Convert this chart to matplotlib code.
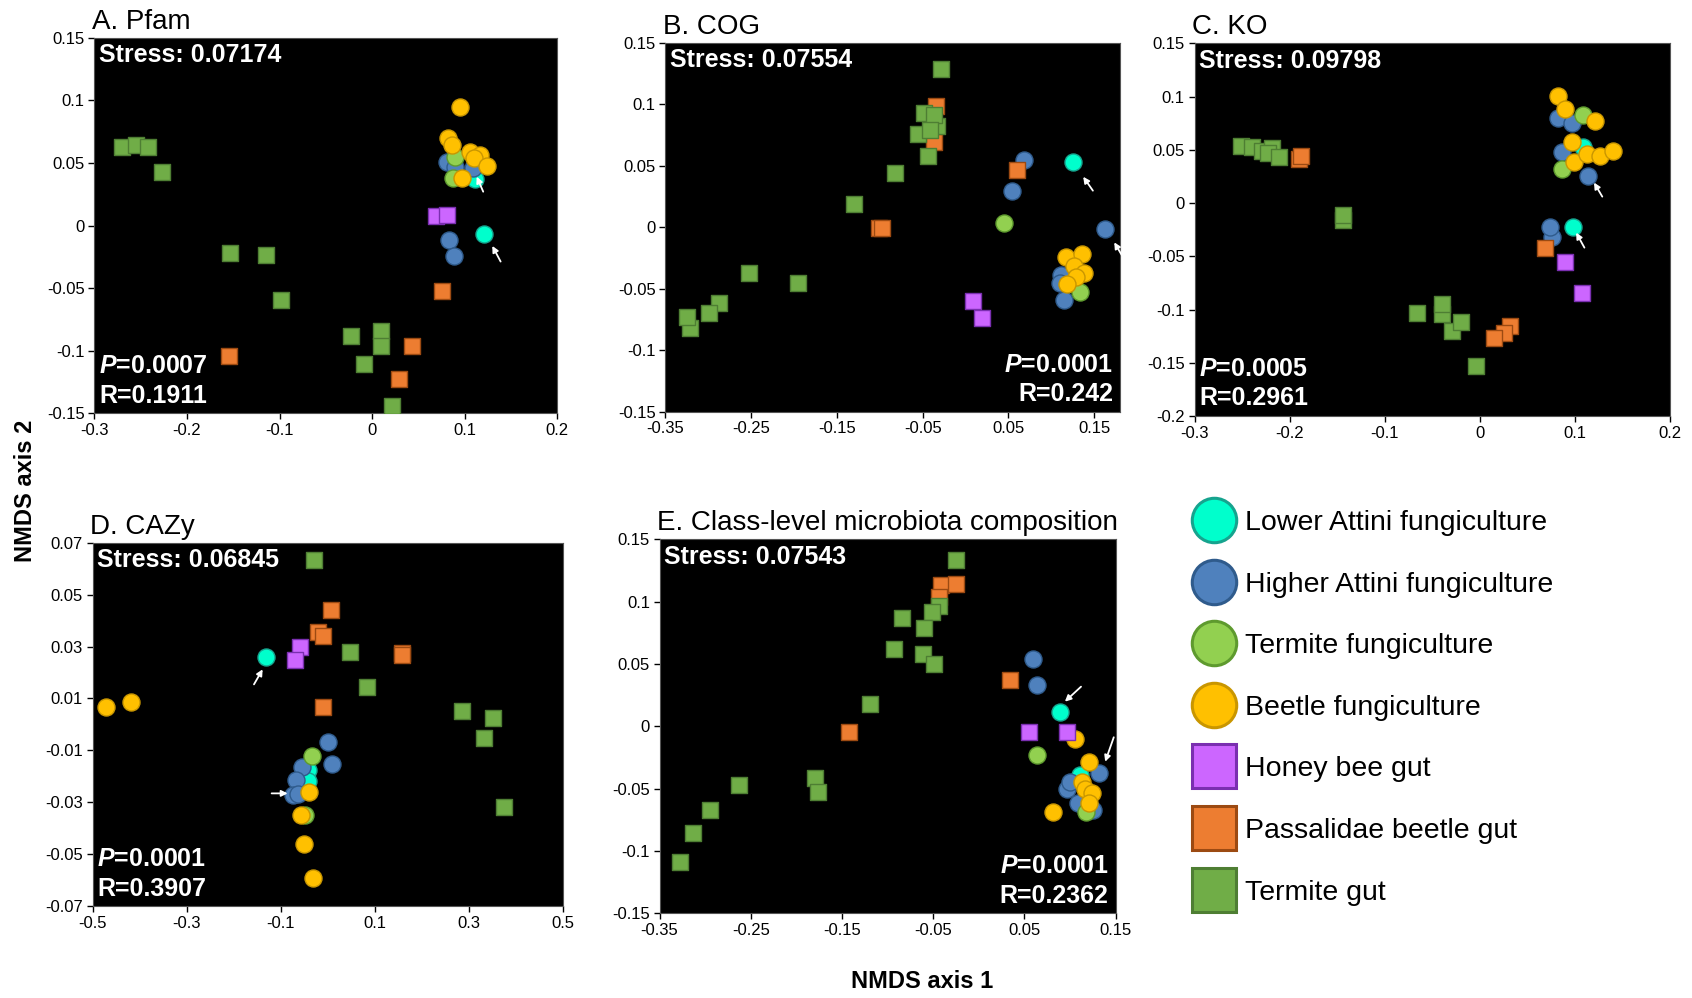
import matplotlib
matplotlib.use("Agg")
import matplotlib.pyplot as plt
from matplotlib.lines import Line2D
from matplotlib.ticker import FuncFormatter

plt.rcParams["font.family"] = ["Liberation Sans", "DejaVu Sans"]
plt.rcParams["axes.unicode_minus"] = False
plt.rcParams["mathtext.fontset"] = "custom"
plt.rcParams["mathtext.it"] = "Liberation Sans:bold:italic"
plt.rcParams["mathtext.rm"] = "Liberation Sans:bold"

# groups, in drawing order (legend order)
groups = ["Lower Attini fungiculture", "Higher Attini fungiculture",
          "Termite fungiculture", "Beetle fungiculture", "Honey bee gut",
          "Passalidae beetle gut", "Termite gut"]
markers = ["o", "o", "o", "o", "s", "s", "s"]
fills = ["#00FFCC", "#4F81BD", "#92D050", "#FFC000", "#CC66FF", "#ED7D31", "#70AD47"]
edges = ["#16A38E", "#2F5B8C", "#5E9A2E", "#C99600", "#7A2FB0", "#9C4A12", "#4E7E33"]

# ---- A. Pfam ----
pfam_lower = [(0.121, -0.007), (0.111, 0.037)]
pfam_higher = [(0.083, -0.0115), (0.088, -0.024), (0.0806, 0.051), (0.0895, 0.047), (0.109, 0.046)]
pfam_tfung = [(0.0895, 0.055), (0.0877, 0.0377)]
pfam_beetle = [(0.095, 0.0949), (0.0823, 0.0697), (0.086, 0.0643), (0.1057, 0.059),
               (0.1165, 0.0563), (0.110, 0.0537), (0.1237, 0.0475), (0.0968, 0.0377)]
pfam_bee = [(0.0686, 0.0072), (0.0812, 0.0085)]
pfam_passal = [(-0.1546, -0.104), (0.0755, -0.0527), (0.0434, -0.0966), (0.029, -0.1224)]
pfam_tgut = [(-0.2705, 0.063), (-0.255, 0.064), (-0.2424, 0.063), (-0.2269, 0.043),
             (-0.1531, -0.0222), (-0.115, -0.0233), (-0.0987, -0.0595), (-0.0228, -0.088),
             (0.0092, -0.0846), (0.0092, -0.0966), (-0.0084, -0.1107), (0.0218, -0.1445)]
pfam_arrows = [((0.113, 0.039), (0.120, 0.027)), ((0.1298, -0.0163), (0.1388, -0.0288))]

# ---- B. COG ----
cog_lower = [(0.125, 0.0527)]
cog_higher = [(0.0679, 0.0546), (0.0538, 0.0297), (0.1627, -0.0017), (0.1114, -0.0389),
              (0.1095, -0.0456), (0.1145, -0.0592)]
cog_tfung = [(0.0453, 0.0037), (0.1339, -0.0525)]
cog_beetle = [(0.1172, -0.024), (0.1355, -0.022), (0.1269, -0.0316), (0.1386, -0.037),
              (0.1289, -0.0407), (0.1184, -0.0462)]
cog_bee = [(0.0091, -0.060), (0.0196, -0.0741)]
cog_passal = [(-0.034, 0.0985), (-0.0368, 0.0695), (-0.1012, -0.001), (-0.0972, -0.0004),
              (0.0594, 0.0465)]
cog_tgut = [(-0.0291, 0.1286), (-0.0489, 0.0925), (-0.0328, 0.0822), (-0.0368, 0.0912),
            (-0.0553, 0.0755), (-0.042, 0.079), (-0.044, 0.0579), (-0.0823, 0.0443),
            (-0.1306, 0.0186), (-0.2522, -0.0375), (-0.195, -0.0451), (-0.2876, -0.0614),
            (-0.2997, -0.070), (-0.321, -0.0822), (-0.325, -0.0728)]
cog_arrows = [((0.1371, 0.041), (0.1484, 0.0297)), ((0.1733, -0.0123), (0.182, -0.0226))]

# ---- C. KO ----
ko_lower = [(0.0975, -0.0226), (0.1088, 0.053)]
ko_higher = [(0.0824, 0.0796), (0.0968, 0.0755), (0.0862, 0.0483), (0.1137, 0.0257),
             (0.0757, -0.0315), (0.0738, -0.0226)]
ko_tfung = [(0.1088, 0.0827), (0.0862, 0.032)]
ko_beetle = [(0.0824, 0.1009), (0.090, 0.088), (0.1213, 0.0774), (0.0968, 0.0577),
             (0.0994, 0.0389), (0.1126, 0.0461), (0.1269, 0.0445), (0.1401, 0.0492)]
ko_bee = [(0.0892, -0.0556), (0.1077, -0.0848)]
ko_passal = [(-0.1896, 0.0411), (-0.1877, 0.0442), (0.0681, -0.0425), (0.0316, -0.1154),
             (0.0259, -0.1223), (0.0154, -0.1264)]
ko_tgut = [(-0.251, 0.0539), (-0.2397, 0.053), (-0.2292, 0.0489), (-0.219, 0.052),
           (-0.2228, 0.0467), (-0.2115, 0.043), (-0.1436, -0.0159), (-0.1436, -0.0112),
           (-0.0664, -0.1035), (-0.040, -0.1042), (-0.040, -0.0948), (-0.0295, -0.1201),
           (-0.020, -0.1114), (-0.0035, -0.1527)]
ko_arrows = [((0.1201, 0.0192), (0.1288, 0.006)), ((0.1013, -0.0278), (0.110, -0.0419))]

# ---- D. CAZy ----
cazy_lower = [(-0.1318, 0.0261), (-0.0419, -0.0176), (-0.0419, -0.022)]
cazy_higher = [(0.0006, -0.0069), (0.0076, -0.0154), (-0.0547, -0.0165), (-0.0681, -0.0214),
               (-0.0738, -0.0272), (-0.0632, -0.0269)]
cazy_tfung = [(-0.0349, -0.0122), (-0.049, -0.0349)]
cazy_beetle = [(-0.4717, 0.0066), (-0.4193, 0.0088), (-0.0398, -0.0262), (-0.0582, -0.0349),
               (-0.0504, -0.0462), (-0.0313, -0.0593)]
cazy_bee = [(-0.0596, 0.030), (-0.0702, 0.0248)]
cazy_passal = [(0.0062, 0.0441), (-0.0221, 0.0357), (-0.0115, 0.034), (0.1563, 0.0274),
               (0.1577, 0.0267), (-0.0115, 0.0068)]
cazy_tgut = [(-0.0292, 0.0633), (0.0466, 0.028), (0.0834, 0.0143), (0.2852, 0.0053),
             (0.3496, 0.0023), (0.3319, -0.0054), (0.3744, -0.032)]
cazy_arrows = [((-0.1389, 0.0212), (-0.1573, 0.0154)), ((-0.0858, -0.0266), (-0.1198, -0.0266))]

# ---- E. Class-level microbiota ----
cls_lower = [(0.0888, 0.0118), (0.111, -0.039)]
cls_higher = [(0.0594, 0.0537), (0.0635, 0.0331), (0.1322, -0.0377), (0.0965, -0.0505),
              (0.1003, -0.0444), (0.1094, -0.0617), (0.1258, -0.0671)]
cls_tfung = [(0.0636, -0.023), (0.1178, -0.0685)]
cls_beetle = [(0.1056, -0.0105), (0.1213, -0.0284), (0.0818, -0.0685), (0.1131, -0.0444),
              (0.1167, -0.0505), (0.124, -0.0537), (0.1204, -0.0617)]
cls_bee = [(0.0548, -0.0048), (0.0964, -0.0048)]
cls_passal = [(-0.0415, 0.1134), (-0.0434, 0.104), (-0.0245, 0.1142), (-0.1427, -0.0048),
              (0.0341, 0.0372)]
cls_tgut = [(-0.0252, 0.1334), (-0.0434, 0.0965), (-0.0517, 0.092), (-0.0838, 0.0866),
            (-0.0603, 0.0791), (-0.0924, 0.062), (-0.0615, 0.058), (-0.049, 0.050),
            (-0.1189, 0.0179), (-0.1793, -0.0417), (-0.1763, -0.053), (-0.2631, -0.0471),
            (-0.2952, -0.0671), (-0.3134, -0.0858), (-0.3273, -0.1086)]
cls_arrows = [((0.0945, 0.0198), (0.1122, 0.0318)), ((0.1387, -0.0284), (0.1481, -0.0088))]

panels = [
    dict(title="A. Pfam", stress="0.07174", p="0.0007", r="0.1911", stat_right=False,
         pts=[pfam_lower, pfam_higher, pfam_tfung, pfam_beetle, pfam_bee, pfam_passal, pfam_tgut],
         arrows=pfam_arrows, xlim=(-0.3, 0.2), ylim=(-0.15, 0.15),
         xticks=[-0.3, -0.2, -0.1, 0, 0.1, 0.2], yticks=[-0.15, -0.1, -0.05, 0, 0.05, 0.1, 0.15],
         box=(94.3, 37.7, 557.3, 413.3)),
    dict(title="B. COG", stress="0.07554", p="0.0001", r="0.242", stat_right=True,
         pts=[cog_lower, cog_higher, cog_tfung, cog_beetle, cog_bee, cog_passal, cog_tgut],
         arrows=cog_arrows, xlim=(-0.35, 0.18), ylim=(-0.15, 0.15),
         xticks=[-0.35, -0.25, -0.15, -0.05, 0.05, 0.15], yticks=[-0.15, -0.1, -0.05, 0, 0.05, 0.1, 0.15],
         box=(665.4, 42.7, 1120, 411.7)),
    dict(title="C. KO", stress="0.09798", p="0.0005", r="0.2961", stat_right=False,
         pts=[ko_lower, ko_higher, ko_tfung, ko_beetle, ko_bee, ko_passal, ko_tgut],
         arrows=ko_arrows, xlim=(-0.3, 0.2), ylim=(-0.2, 0.15),
         xticks=[-0.3, -0.2, -0.1, 0, 0.1, 0.2], yticks=[-0.2, -0.15, -0.1, -0.05, 0, 0.05, 0.1, 0.15],
         box=(1194.5, 43.3, 1670, 416)),
    dict(title="D. CAZy", stress="0.06845", p="0.0001", r="0.3907", stat_right=False,
         pts=[cazy_lower, cazy_higher, cazy_tfung, cazy_beetle, cazy_bee, cazy_passal, cazy_tgut],
         arrows=cazy_arrows, xlim=(-0.5, 0.5), ylim=(-0.07, 0.07),
         xticks=[-0.5, -0.3, -0.1, 0.1, 0.3, 0.5], yticks=[-0.07, -0.05, -0.03, -0.01, 0.01, 0.03, 0.05, 0.07],
         box=(92.7, 542.7, 563.3, 906)),
    dict(title="E. Class-level microbiota composition", stress="0.07543", p="0.0001", r="0.2362",
         stat_right=True,
         pts=[cls_lower, cls_higher, cls_tfung, cls_beetle, cls_bee, cls_passal, cls_tgut],
         arrows=cls_arrows, xlim=(-0.35, 0.15), ylim=(-0.15, 0.15),
         xticks=[-0.35, -0.25, -0.15, -0.05, 0.05, 0.15], yticks=[-0.15, -0.1, -0.05, 0, 0.05, 0.1, 0.15],
         box=(659.6, 539.3, 1115.5, 913.3)),
]

W, H = 1692, 998
fig = plt.figure(figsize=(W / 100, H / 100), dpi=100)
fmt = FuncFormatter(lambda v, pos: "{:g}".format(round(v, 4)))

for pan in panels:
    x0, y0, x1, y1 = pan["box"]
    ax = fig.add_axes([x0 / W, 1 - y1 / H, (x1 - x0) / W, (y1 - y0) / H])
    ax.set_facecolor("black")
    for pts, mk, fc, ec in zip(pan["pts"], markers, fills, edges):
        xs, ys = zip(*pts)
        ax.scatter(xs, ys, marker=mk, s=150 if mk == "o" else 125, c=fc,
                   edgecolors=ec, linewidths=1.0, zorder=3)
    for head, tail in pan["arrows"]:
        ax.annotate("", xy=head, xytext=tail, annotation_clip=False,
                    arrowprops=dict(arrowstyle="-|>", color="white", lw=1.3,
                                    mutation_scale=9, shrinkA=0, shrinkB=0), zorder=4)
    ax.set_xlim(pan["xlim"])
    ax.set_ylim(pan["ylim"])
    ax.set_xticks(pan["xticks"])
    ax.set_yticks(pan["yticks"])
    ax.xaxis.set_major_formatter(fmt)
    ax.yaxis.set_major_formatter(fmt)
    ax.tick_params(labelsize=12, length=4, width=1, pad=3)
    for sp in ax.spines.values():
        sp.set_color("#555555")

    ax.text(-0.005, 1.008, pan["title"], transform=ax.transAxes, ha="left", va="bottom",
            fontsize=20)
    ax.text(0.01, 0.985, "Stress: " + pan["stress"], transform=ax.transAxes, ha="left",
            va="top", fontsize=18, fontweight="bold", color="white")
    if pan["stat_right"]:
        sx, ha = 0.985, "right"
    else:
        sx, ha = 0.01, "left"
    ax.text(sx, 0.015, "R=" + pan["r"], transform=ax.transAxes, ha=ha, va="bottom",
            fontsize=18, fontweight="bold", color="white")
    ax.text(sx, 0.095, "$P$=" + pan["p"], transform=ax.transAxes, ha=ha, va="bottom",
            fontsize=18, fontweight="bold", color="white")

fig.text(922 / W, 1 - 982 / H, "NMDS axis 1", ha="center", va="center",
         fontsize=17, fontweight="bold")
fig.text(25 / W, 1 - 491 / H, "NMDS axis 2", ha="center", va="center", rotation=90,
         fontsize=17, fontweight="bold")

handles = [Line2D([], [], ls="", marker=mk, ms=32 if mk == "o" else 31, mfc=fc, mec=ec, mew=2.2)
           for mk, fc, ec in zip(markers, fills, edges)]
fig.legend(handles, groups, loc="upper left", bbox_to_anchor=(1197 / W, 1 - 510 / H),
           frameon=False, fontsize=20.5, labelspacing=1.25, handletextpad=0.5,
           borderpad=0, borderaxespad=0, handlelength=1.2)

fig.savefig("out.png", dpi=100)
